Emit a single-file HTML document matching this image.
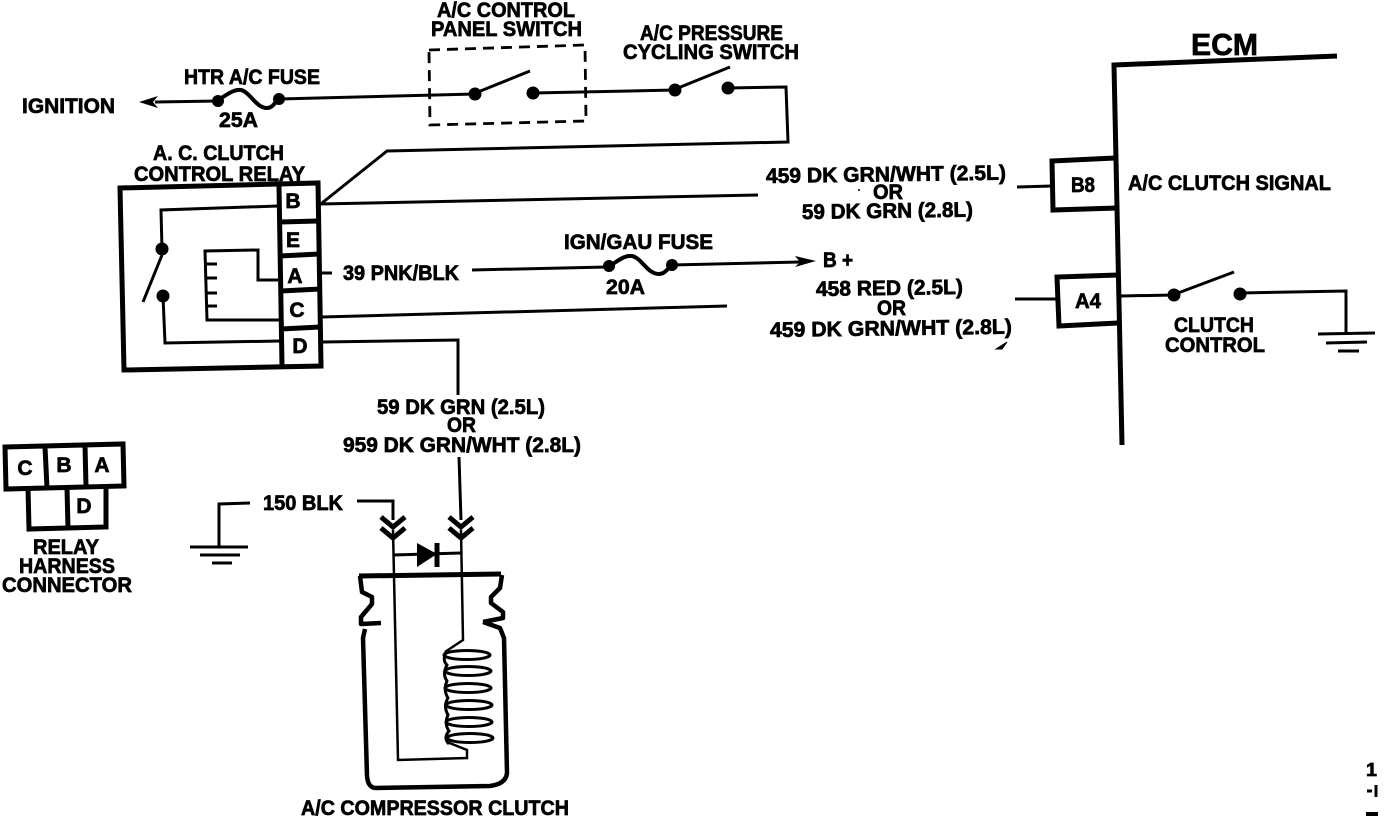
<!DOCTYPE html>
<html lang="en">
<head>
<meta charset="utf-8">
<title>A/C Compressor Clutch Wiring Diagram</title>
<style>
html,body{margin:0;padding:0;background:#fff;width:1392px;height:820px;overflow:hidden}
svg{display:block}
text{font-family:"Liberation Sans",sans-serif;font-weight:bold;font-size:21px;fill:#000;stroke:#000;stroke-width:.7px}
.w{fill:none;stroke:#000;stroke-width:3;stroke-linejoin:miter}
.t{fill:none;stroke:#000;stroke-width:5;stroke-linejoin:miter}
.n{fill:none;stroke:#000;stroke-width:2.5}
</style>
</head>
<body>
<svg width="1392" height="820" viewBox="0 0 1392 820" xmlns="http://www.w3.org/2000/svg">
<rect width="1392" height="820" fill="#fff"/>

<!-- top circuit -->
<path class="w" d="M155 102L218 101"/>
<path d="M139 102L158 96L153 102L158 108Z" fill="#000"/>
<path class="w" style="stroke-width:4" d="M218 100C228 94 234 89 241 90C250 92 256 108 267 108C272 108 275 103 278 99"/>
<circle cx="218" cy="101" r="6"/><circle cx="279" cy="99" r="6"/>
<path class="w" d="M279 99L475 94"/>
<circle cx="475" cy="94" r="6.5"/>
<path class="w" d="M478 92L530 71"/>
<circle cx="533" cy="93" r="6.5"/>
<path class="w" d="M533 93L675 90"/>
<circle cx="675" cy="90" r="6.5"/>
<path class="w" d="M678 88L730 67"/>
<circle cx="728" cy="88" r="6.5"/>
<path class="w" d="M728 88L786 87L788 142L387 151L322 203"/>
<path class="w" d="M320 204L758 195"/>
<path d="M429 50L585 45L586 121L430 125Z" fill="none" stroke="#000" stroke-width="2.8" stroke-dasharray="11 7"/>

<!-- relay -->
<path class="t" d="M120 188L318 183L321 366L124 370Z"/>
<path class="t" d="M279 186L282 366"/>
<path class="t" d="M280 222L318 221M280 256L319 254M281 291L320 289M281 329L320 327"/>
<path class="w" d="M278 206L161 210L162 249"/>
<circle cx="162" cy="249" r="6.5"/>
<path class="w" d="M162 255L143 302"/>
<circle cx="163" cy="296" r="6.5"/>
<path class="w" d="M163 296L165 343L280 341"/>
<path class="w" d="M278 280L258 280L258 250L205 251L207 320L279 320"/>
<path class="w" d="M206 264L217 264M206 278L217 278M206 293L217 293M206 306L217 306"/>

<!-- middle wires -->
<path class="w" d="M321 273L332 273"/>
<path class="w" d="M472 270L607 267"/>
<path class="w" style="stroke-width:4" d="M608 267C618 261 624 255 632 256C642 258 647 274 659 274C665 274 668 268 672 265"/>
<circle cx="609" cy="266" r="6"/><circle cx="672" cy="265" r="6"/>
<path class="w" d="M672 265L800 262"/>
<path d="M816 261L795 256L800 262L795 267Z" fill="#000"/>
<path class="w" d="M322 317L727 306"/>
<path class="w" d="M323 342L458 340L458 395"/>
<path class="w" d="M459 457L461 520"/>

<!-- ECM -->
<path class="t" d="M1337 56L1114 65L1122 445"/>
<path class="t" d="M1115 158L1052 161L1053 210L1117 208"/>
<path class="w" d="M1017 187L1052 186"/>
<path class="t" d="M1118 275L1057 277L1059 326L1118 323"/>
<path class="w" d="M1015 299L1057 299"/>
<path class="w" d="M1120 296L1174 295"/>
<circle cx="1174" cy="295" r="6.5"/>
<path class="w" d="M1178 293L1234 272"/>
<circle cx="1240" cy="294" r="6.5"/>
<path class="w" d="M1240 293L1346 291L1346 333"/>
<path class="w" d="M1318 334L1375 333M1326 343L1367 342M1338 351L1359 351"/>
<path d="M996 349L1007 342L1002 349Z" fill="#000" stroke="#000"/>
<circle cx="859" cy="190" r="1" fill="#000"/>

<!-- harness -->
<path class="t" d="M5 447L123 444L124 486L6 489ZM45 447L47 488M85 445L86 487"/>
<path class="t" d="M28 488L29 529L106 527L106 486M67 488L68 528"/>

<!-- left ground -->
<path class="w" d="M250 503L219 504L219 547"/>
<path class="w" d="M190 547L248 547M200 555L240 555M212 563L232 563"/>

<!-- compressor clutch -->
<path class="w" d="M357 501L393 501L393 520"/>
<path d="M381 517L393 527L405 517" fill="none" stroke="#000" stroke-width="5"/>
<path d="M381 528L393 538L405 528" fill="none" stroke="#000" stroke-width="5"/>
<path d="M449 517L461 527L473 517" fill="none" stroke="#000" stroke-width="5"/>
<path d="M449 528L461 538L473 528" fill="none" stroke="#000" stroke-width="5"/>
<path class="n" d="M393 530L398 760L467 758L467 750L447 742"/>
<path class="n" d="M461 530L463 640L445 652"/>
<path class="w" d="M393 555L461 553"/>
<path d="M417 543L437 554L417 567Z" fill="#000"/>
<path d="M437 543V567" stroke="#000" stroke-width="5" fill="none"/>
<path class="t" d="M359 576L501 574"/>
<path d="M360 576L362 592L372 597L372 604L361 617L361 624L381 623M365 629L363 638L367 776Q368 788 376 788L490 786Q506 784 507 773L504 638L500 628L483 622M502 575L500 588L491 597L491 603L503 612L503 618L483 622" fill="none" stroke="#000" stroke-width="4.5" stroke-linejoin="round"/>
<g fill="none" stroke="#000" stroke-width="3">
<ellipse cx="467" cy="655" rx="23" ry="4.5"/>
<ellipse cx="468" cy="671" rx="23" ry="4.5"/>
<ellipse cx="468" cy="688" rx="23" ry="4.5"/>
<ellipse cx="469" cy="705" rx="23" ry="4.5"/>
<ellipse cx="469" cy="722" rx="23" ry="4.5"/>
<ellipse cx="470" cy="738" rx="23" ry="4.5"/>
<path d="M446 652Q442 660 447 665Q442 674 447 681Q443 690 448 698Q443 706 448 715Q444 724 449 731Q443 738 449 744"/>
</g>

<!-- labels -->
<text x="22" y="113" textLength="93" lengthAdjust="spacingAndGlyphs">IGNITION</text>
<text x="184" y="84" textLength="136" lengthAdjust="spacingAndGlyphs">HTR A/C FUSE</text>
<text x="219" y="127" textLength="39" lengthAdjust="spacingAndGlyphs">25A</text>
<text x="153" y="160" textLength="131" lengthAdjust="spacingAndGlyphs">A. C. CLUTCH</text>
<text x="134" y="181" textLength="171" lengthAdjust="spacingAndGlyphs">CONTROL RELAY</text>
<text x="437" y="17" textLength="138" lengthAdjust="spacingAndGlyphs">A/C CONTROL</text>
<text x="431" y="36" textLength="151" lengthAdjust="spacingAndGlyphs">PANEL SWITCH</text>
<text x="640" y="40" textLength="143" lengthAdjust="spacingAndGlyphs">A/C PRESSURE</text>
<text x="623" y="59" textLength="176" lengthAdjust="spacingAndGlyphs">CYCLING SWITCH</text>
<text x="766" y="183" textLength="240" lengthAdjust="spacingAndGlyphs" transform="rotate(-.8 766 183)">459 DK GRN/WHT (2.5L)</text>
<text x="873" y="199" textLength="30" lengthAdjust="spacingAndGlyphs">OR</text>
<text x="802" y="219" textLength="171" lengthAdjust="spacingAndGlyphs" transform="rotate(-.8 802 219)">59 DK GRN (2.8L)</text>
<text x="564" y="249" textLength="149" lengthAdjust="spacingAndGlyphs">IGN/GAU FUSE</text>
<text x="606" y="294" textLength="39" lengthAdjust="spacingAndGlyphs">20A</text>
<text x="823" y="267" textLength="30" lengthAdjust="spacingAndGlyphs">B +</text>
<text x="816" y="296" textLength="147" lengthAdjust="spacingAndGlyphs" transform="rotate(-.8 816 296)">458 RED (2.5L)</text>
<text x="877" y="315" textLength="29" lengthAdjust="spacingAndGlyphs">OR</text>
<text x="770" y="337" textLength="242" lengthAdjust="spacingAndGlyphs" transform="rotate(-.8 770 337)">459 DK GRN/WHT (2.8L)</text>
<text x="343" y="280" textLength="116" lengthAdjust="spacingAndGlyphs">39 PNK/BLK</text>
<text x="377" y="414" textLength="168" lengthAdjust="spacingAndGlyphs">59 DK GRN (2.5L)</text>
<text x="447" y="432" textLength="29" lengthAdjust="spacingAndGlyphs">OR</text>
<text x="343" y="452" textLength="238" lengthAdjust="spacingAndGlyphs">959 DK GRN/WHT (2.8L)</text>
<text x="263" y="510" textLength="80" lengthAdjust="spacingAndGlyphs">150 BLK</text>
<text x="33" y="554" textLength="66" lengthAdjust="spacingAndGlyphs">RELAY</text>
<text x="19" y="573" textLength="96" lengthAdjust="spacingAndGlyphs">HARNESS</text>
<text x="2" y="592" textLength="130" lengthAdjust="spacingAndGlyphs">CONNECTOR</text>
<text x="301" y="815" textLength="268" lengthAdjust="spacingAndGlyphs">A/C COMPRESSOR CLUTCH</text>
<text x="1128" y="190" textLength="203" lengthAdjust="spacingAndGlyphs">A/C CLUTCH SIGNAL</text>
<text x="1191" y="55" textLength="67" lengthAdjust="spacingAndGlyphs" style="font-size:31px">ECM</text>
<text x="1071" y="192" textLength="24" lengthAdjust="spacingAndGlyphs">B8</text>
<text x="1075" y="308" textLength="26" lengthAdjust="spacingAndGlyphs">A4</text>
<text x="1174" y="332" textLength="80" lengthAdjust="spacingAndGlyphs">CLUTCH</text>
<text x="1165" y="352" textLength="100" lengthAdjust="spacingAndGlyphs">CONTROL</text>
<text x="293" y="208" text-anchor="middle">B</text>
<text x="293" y="247" text-anchor="middle">E</text>
<text x="295" y="283" text-anchor="middle">A</text>
<text x="297" y="317" text-anchor="middle">C</text>
<text x="300" y="353" text-anchor="middle">D</text>
<text x="25" y="475" text-anchor="middle">C</text>
<text x="64" y="472" text-anchor="middle">B</text>
<text x="102" y="472" text-anchor="middle">A</text>
<text x="84" y="513" text-anchor="middle">D</text>

<!-- bottom-right fragments -->
<text x="1366" y="776" textLength="11" lengthAdjust="spacingAndGlyphs" style="font-size:18px">1</text>
<path d="M1367 791H1372M1376 785V797" stroke="#000" stroke-width="3" fill="none"/>
<rect x="1366" y="812" width="12" height="4" fill="#000"/>
</svg>
</body>
</html>
